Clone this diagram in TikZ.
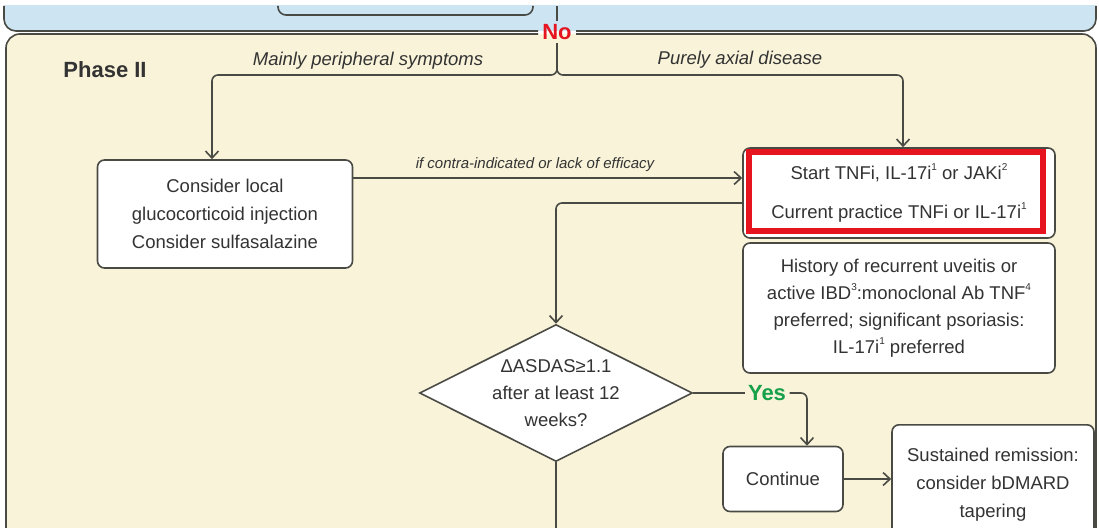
\documentclass[tikz,border=0pt]{standalone}
\usepackage{fontspec}
\setmainfont{Liberation Sans}
\usetikzlibrary{arrows.meta,shapes.geometric}

\definecolor{panelblue}{HTML}{CDE5F3}
\definecolor{panelbeige}{HTML}{F8F3D9}
\definecolor{linegray}{HTML}{4A4A44}
\definecolor{textgray}{HTML}{333333}
\definecolor{noRed}{HTML}{E5141F}
\definecolor{yesGreen}{HTML}{17A04A}

\newcommand{\fnref}[1]{\raisebox{0.5em}{\fontsize{10}{10}\selectfont #1}}

\begin{document}
\begin{tikzpicture}[x=1pt,y=-1pt,
    box/.style={draw=linegray,line width=1.6pt,rounded corners=7pt,fill=white,
                align=center,text=textgray,inner sep=0pt,
                font=\fontsize{18.5}{28}\selectfont},
    decide/.style={diamond,draw=linegray,line width=1.6pt,fill=white,inner sep=0pt},
    flow/.style={draw=linegray,line width=1.6pt},
    arr/.style={flow,-{Straight Barb[length=7pt,width=13pt]}},
    tag/.style={text=textgray,font=\itshape\fontsize{18.5}{22}\selectfont},
    answer/.style={font=\bfseries\fontsize{22}{26}\selectfont}]

\useasboundingbox (0,0) rectangle (1099,527);
\clip (0,0) rectangle (1099,527);

% panels
\fill[white] (0,0) rectangle (1099,527);
\begin{scope}
\clip (0,6) rectangle (1099,527);
\fill[panelblue,rounded corners=12pt] (4,-20) rectangle (1096,31);
\end{scope}
\fill[panelbeige,rounded corners=14pt] (6,34) rectangle (1096,560);
\draw[flow,rounded corners=12pt] (4,6) -- (4,31) -- (538,31);
\draw[flow,rounded corners=12pt] (576,31) -- (1096,31) -- (1096,6);
\draw[flow,rounded corners=14pt] (538,34) -- (6,34) -- (6,560);
\draw[flow,rounded corners=14pt] (576,34) -- (1096,34) -- (1096,560);
\draw[flow,rounded corners=8pt] (278,6) -- (278,15) -- (533,15) -- (533,6);

\node[answer,text=noRed] (no) at (557,32) {No};
\node[answer,text=textgray] (phase) at (105,70) {Phase II};
\coordinate (top) at (557,6);
\coordinate (split) at (557,75);
\coordinate (bot) at (556,545);

\node[tag] (periph) at (368,61) {Mainly peripheral symptoms};
\node[tag] (axial) at (740,60) {Purely axial disease};

\node[box,minimum width=255pt,minimum height=108pt] (lbox) at (225,214)
    {Consider local\\glucocorticoid injection\\Consider sulfasalazine};
\node[box,minimum width=312pt,minimum height=90pt] (start) at (899,193)
    {Start TNFi, IL-17i\fnref{1} or JAKi\fnref{2}\\[11pt]
     Current practice TNFi or IL-17i\fnref{1}};
\draw[noRed,line width=6.5pt] (749,152) rectangle (1043,231);
\node[box,minimum width=312pt,minimum height=130pt,
      font=\fontsize{18.5}{27}\selectfont] (hist) at (899,308)
    {History of recurrent uveitis or\\
     active IBD\fnref{3}:monoclonal Ab TNF\fnref{4}\\
     preferred; significant psoriasis:\\
     IL-17i\fnref{1} preferred};

\node[decide,minimum width=273pt,minimum height=137pt] (chk) at (556,393) {};
\node[align=center,text=textgray,font=\fontsize{18.5}{27}\selectfont] (chktxt) at (chk)
    {ΔASDAS≥1.1\\after at least 12\\weeks?};
\node[answer,text=yesGreen] (yes) at (767,393) {Yes};
\node[box,minimum width=120pt,minimum height=65pt] (cont) at (783,479) {Continue};
\node[box,minimum width=202pt,minimum height=120pt,anchor=north] (sust) at (993,424)
    {Sustained remission:\\consider bDMARD\\tapering};

\node[tag,font=\itshape\fontsize{15}{18}\selectfont] (ifci) at (535,165)
    {if contra-indicated or lack of efficacy};

% connectors
\draw[flow] (top) -- (no);
\draw[arr,rounded corners=6pt] (no) -- (split) -| ([xshift=-13pt]lbox.north);
\draw[arr,rounded corners=6pt] (no) -- (split) -| ([xshift=4pt]start.north);
\draw[arr] ([yshift=36pt]lbox.east) -- ([yshift=36pt]lbox.east -| start.west);
\draw[arr,rounded corners=6pt] ([yshift=-10pt]start.west) -| (chk.north);
\draw[flow] (chk.east) -- (chk.east -| yes.west);
\draw[arr,rounded corners=6pt] (yes.east) -| ([xshift=24pt]cont.north);
\draw[arr] (cont.east) -- (cont.east -| sust.west);
\draw[flow] (chk.south) -- (bot);

\end{tikzpicture}
\end{document}
